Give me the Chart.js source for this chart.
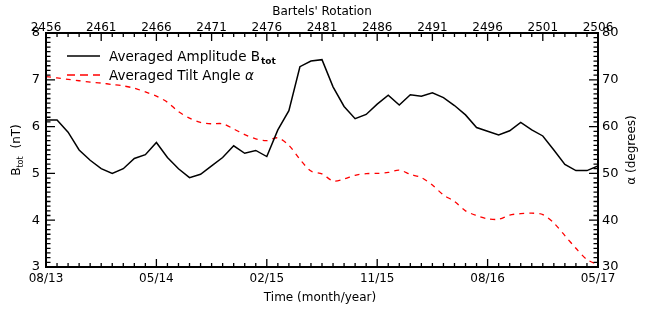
<!DOCTYPE html>
<html>
<head>
<meta charset="utf-8">
<script src="https://cdn.jsdelivr.net/npm/chart.js@4/dist/chart.umd.min.js"></script>
<style>
  html, body { margin: 0; padding: 0; background: #fff; }
  #wrap { width: 647px; height: 310px; }
</style>
</head>
<body>
<div id="wrap"><canvas id="chart"></canvas></div>
<script>
const rotations = [2456, 2457, 2458, 2459, 2460, 2461, 2462, 2463, 2464, 2465,
  2466, 2467, 2468, 2469, 2470, 2471, 2472, 2473, 2474, 2475,
  2476, 2477, 2478, 2479, 2480, 2481, 2482, 2483, 2484, 2485,
  2486, 2487, 2488, 2489, 2490, 2491, 2492, 2493, 2494, 2495,
  2496, 2497, 2498, 2499, 2500, 2501, 2502, 2503, 2504, 2505, 2506];

// averaged amplitude B_tot (nT)
const amplitudeBtot = [6.14, 6.14, 5.88, 5.50, 5.28, 5.10, 5.00, 5.10, 5.32, 5.40,
  5.66, 5.34, 5.10, 4.91, 4.98, 5.16, 5.34, 5.59, 5.43, 5.49,
  5.36, 5.93, 6.34, 7.28, 7.40, 7.43, 6.85, 6.43, 6.17, 6.26,
  6.48, 6.67, 6.46, 6.68, 6.65, 6.72, 6.62, 6.45, 6.25, 5.98,
  5.90, 5.82, 5.91, 6.09, 5.93, 5.80, 5.50, 5.19, 5.06, 5.06, 5.16];

// averaged tilt angle alpha (degrees)
const tiltAngle = [70.7, 70.4, 70.1, 69.8, 69.5, 69.3, 69.0, 68.7, 68.2, 67.4,
  66.5, 65.2, 63.2, 61.8, 60.9, 60.6, 60.6, 59.5, 58.3, 57.4,
  57.0, 57.6, 56.0, 53.0, 50.5, 49.9, 48.4, 48.8, 49.6, 49.95,
  50.0, 50.2, 50.7, 49.8, 49.1, 47.5, 45.4, 44.0, 42.0, 41.0,
  40.3, 40.2, 41.1, 41.4, 41.5, 41.2, 39.4, 36.7, 34.0, 31.6, 30.5];

const rotationTicks = [2456, 2461, 2466, 2471, 2476, 2481, 2486, 2491, 2496, 2501, 2506];
const dateTickRotations = [2456, 2466, 2476, 2486, 2496, 2506];
const dateTickLabels = ['08/13', '05/14', '02/15', '11/15', '08/16', '05/17'];
const btotTicks = [3, 4, 5, 6, 7, 8];
const alphaTicks = [30, 40, 50, 60, 70, 80];

const FONT = 'DejaVu Sans';
Chart.defaults.font.family = FONT;
Chart.defaults.font.size = 12;
Chart.defaults.color = '#000';

function fixedTicks(list) {
  return (s) => { s.ticks = list.map(v => ({ value: v })); };
}

// inward IDL-style ticks, box and titles
const frame = {
  id: 'frame',
  afterDatasetsDraw(chart) {
    const c = chart.ctx;
    const a = chart.chartArea;
    const sx = chart.scales.x, sy = chart.scales.y, sy2 = chart.scales.y2;
    c.save();
    c.strokeStyle = '#000';
    c.lineWidth = 1.3;
    c.beginPath();
    for (let r = 2456; r <= 2506; r++) {
      const px = sx.getPixelForValue(r);
      const top = rotationTicks.includes(r) ? 8 : 4;
      const bot = dateTickRotations.includes(r) ? 8 : 4;
      c.moveTo(px, a.top); c.lineTo(px, a.top + top);
      c.moveTo(px, a.bottom); c.lineTo(px, a.bottom - bot);
    }
    for (let i = 30; i <= 80; i++) {
      const py = sy.getPixelForValue(i / 10);
      const len = i % 10 === 0 ? 9 : 4.5;
      c.moveTo(a.left, py); c.lineTo(a.left + len, py);
    }
    for (let i = 30; i <= 80; i++) {
      const py = sy2.getPixelForValue(i);
      const len = i % 10 === 0 ? 9 : 4.5;
      c.moveTo(a.right, py); c.lineTo(a.right - len, py);
    }
    c.stroke();
    c.lineWidth = 2;
    c.strokeRect(a.left, a.top, a.right - a.left, a.bottom - a.top);

    // titles
    c.fillStyle = '#000';
    c.font = '12px ' + FONT;
    c.textAlign = 'center';
    c.textBaseline = 'alphabetic';
    const cx = (a.left + a.right) / 2;
    c.fillText("Bartels' Rotation", cx, 15);
    c.fillText('Time (month/year)', cx - 2, 301);

    // left title B_tot (nT)
    c.save();
    c.translate(20, (a.top + a.bottom) / 2);
    c.rotate(-Math.PI / 2);
    c.textAlign = 'left';
    c.font = '12px ' + FONT;
    const wB = c.measureText('B').width;
    c.font = '8px ' + FONT;
    const wSub = c.measureText('tot').width;
    c.font = '12px ' + FONT;
    const wRest = c.measureText(' (nT)').width;
    let x0 = -(wB + wSub + 4 + wRest) / 2;
    c.fillText('B', x0, 0);
    c.font = '8px ' + FONT;
    c.fillText('tot', x0 + wB, 3);
    c.font = '12px ' + FONT;
    c.fillText(' (nT)', x0 + wB + wSub + 4, 0);
    c.restore();

    // right title alpha (degrees)
    c.save();
    c.translate(635, (a.top + a.bottom) / 2);
    c.rotate(-Math.PI / 2);
    c.textAlign = 'center';
    c.font = '12px ' + FONT;
    c.fillText('\u03b1 (degrees)', 0, 0);
    c.restore();

    // legend
    c.lineWidth = 1.5;
    c.strokeStyle = '#000';
    c.beginPath(); c.moveTo(67, 56); c.lineTo(100, 56); c.stroke();
    c.strokeStyle = '#ff0000';
    c.setLineDash([8, 5]);
    c.beginPath(); c.moveTo(67, 75); c.lineTo(100, 75); c.stroke();
    c.setLineDash([]);
    c.textAlign = 'left';
    c.font = '13.5px ' + FONT;
    const t1 = 'Averaged Amplitude B';
    c.fillText(t1, 109, 61);
    const w1 = c.measureText(t1).width;
    c.font = 'bold 9px ' + FONT;
    c.fillText('tot', 109 + w1 + 1, 64);
    c.font = '13.5px ' + FONT;
    const t2 = 'Averaged Tilt Angle ';
    c.fillText(t2, 109, 80);
    const w2 = c.measureText(t2).width;
    c.font = 'italic 13.5px ' + FONT;
    c.fillText('\u03b1', 109 + w2, 80);
    c.restore();
  }
};

const ctx = document.getElementById('chart').getContext('2d');

new Chart(ctx, {
  type: 'line',
  data: {
    datasets: [{
      label: 'Averaged Amplitude Btot',
      data: rotations.map((r, i) => ({ x: r, y: amplitudeBtot[i] })),
      borderColor: '#000',
      borderWidth: 1.5,
      pointRadius: 0,
      tension: 0,
      xAxisID: 'x',
      yAxisID: 'y'
    }, {
      label: 'Averaged Tilt Angle \u03b1',
      data: rotations.map((r, i) => ({ x: r, y: tiltAngle[i] })),
      borderColor: '#ff0000',
      borderWidth: 1.3,
      borderDash: [5, 5],
      pointRadius: 0,
      tension: 0.3,
      xAxisID: 'x',
      yAxisID: 'y2'
    }]
  },
  options: {
    responsive: true,
    maintainAspectRatio: false,
    animation: false,
    layout: { padding: 0 },
    plugins: { legend: { display: false }, tooltip: { enabled: false } },
    scales: {
      x: {
        type: 'linear', position: 'bottom', min: 2456, max: 2506,
        afterBuildTicks: fixedTicks(dateTickRotations),
        afterFit: (s) => { s.height = 43; },
        grid: { display: false, drawTicks: false },
        border: { display: false },
        ticks: {
          padding: 5, maxRotation: 0, autoSkip: false,
          callback: (v) => dateTickLabels[dateTickRotations.indexOf(v)]
        }
      },
      x2: {
        type: 'linear', position: 'top', min: 2456, max: 2506,
        afterBuildTicks: fixedTicks(rotationTicks),
        afterFit: (s) => { s.height = 33; },
        grid: { display: false, drawTicks: false },
        border: { display: false },
        ticks: { padding: -2, maxRotation: 0, autoSkip: false, callback: (v) => String(v) }
      },
      y: {
        type: 'linear', position: 'left', min: 3, max: 8,
        afterBuildTicks: fixedTicks(btotTicks),
        afterFit: (s) => { s.width = 46; },
        grid: { display: false, drawTicks: false },
        border: { display: false },
        ticks: { padding: 6, font: { size: 13 } }
      },
      y2: {
        type: 'linear', position: 'right', min: 30, max: 80,
        afterBuildTicks: fixedTicks(alphaTicks),
        afterFit: (s) => { s.width = 49; },
        grid: { display: false, drawTicks: false },
        border: { display: false },
        ticks: { padding: 4, font: { size: 13 } }
      }
    }
  },
  plugins: [frame]
});
</script>
</body>
</html>
